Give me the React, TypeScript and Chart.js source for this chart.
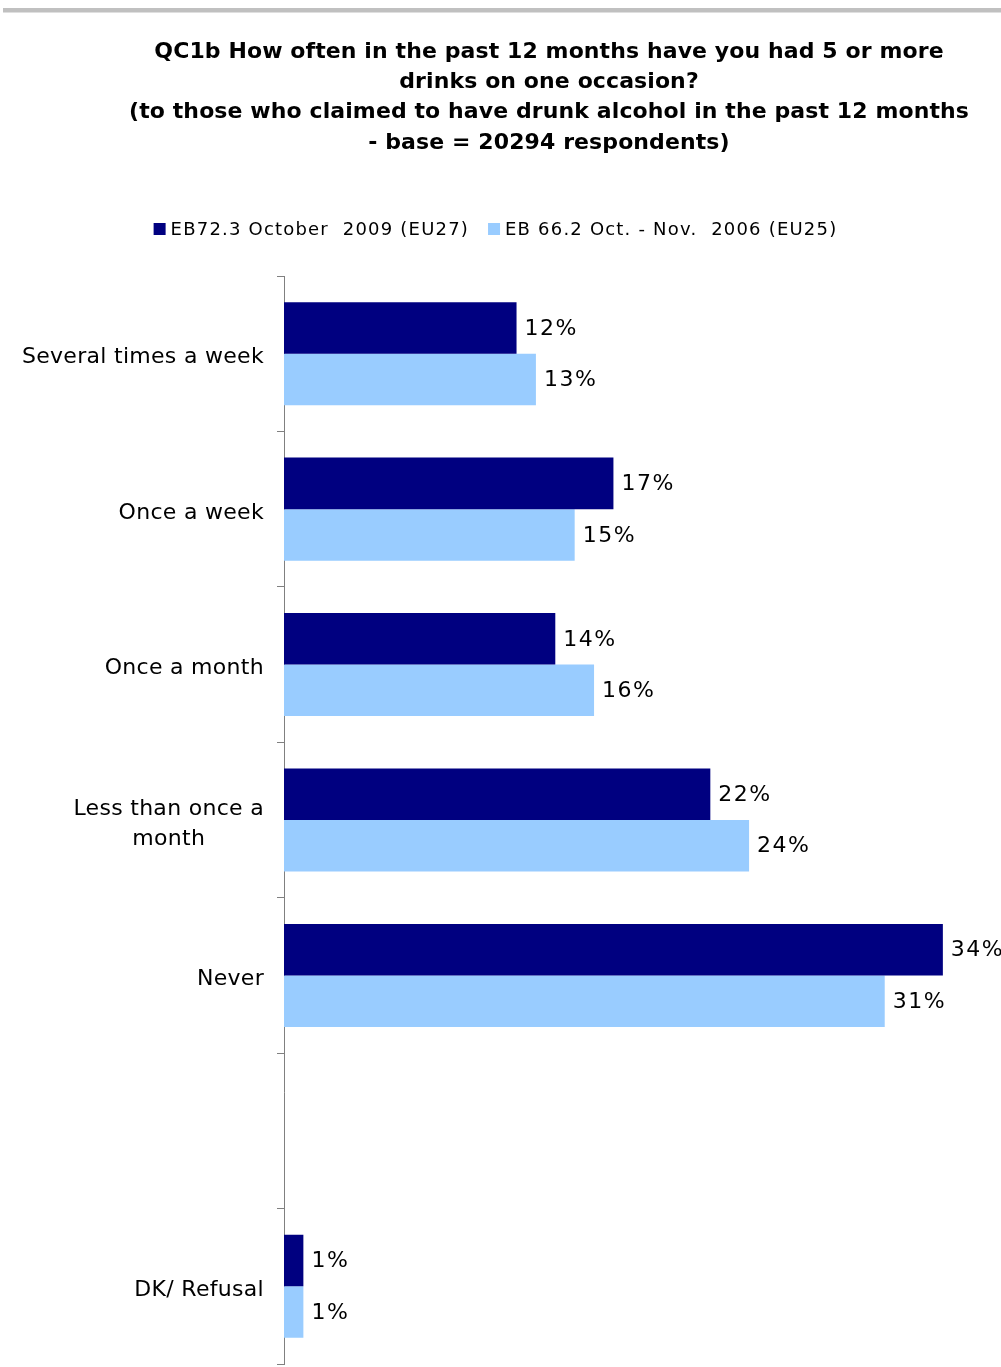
import React, { useEffect, useRef } from "react";
import { Chart, registerables } from "chart.js";

Chart.register(...registerables);

const categories: string[][] = [
  ["Several times a week"],
  ["Once a week"],
  ["Once a month"],
  ["Less than once a", "month"],
  ["Never"],
  [""],
  ["DK/ Refusal"],
];
const series2009: (number | null)[] = [12, 17, 14, 22, 34, null, 1];
const series2006: (number | null)[] = [13, 15, 16, 24, 31, null, 1];
const seriesNames = ["EB72.3 October  2009 (EU27)", "EB 66.2 Oct. - Nov.  2006 (EU25)"];
const seriesColors = ["#000080", "#99CCFF"];
const titleLines = [
  "QC1b How often in the past 12 months have you had 5 or more",
  "drinks on one occasion?",
  "(to those who claimed to have drunk alcohol in the past 12 months",
  "- base = 20294 respondents)",
];

const FONT = "'DejaVu Sans', Verdana, sans-serif";

const decorPlugin = {
  id: "decor",
  afterDraw(chart: any) {
    const ctx = chart.ctx as any;
    ctx.save();
    // top gray rule
    ctx.fillStyle = "#C0C0C0";
    ctx.fillRect(3, 8, 998, 4.5);
    // title
    ctx.fillStyle = "#000";
    ctx.font = `bold 22px ${FONT}`;
    ctx.letterSpacing = "0.1px";
    ctx.textAlign = "center";
    ctx.textBaseline = "middle";
    titleLines.forEach((l, i) => ctx.fillText(l, 549, 52 + i * 30.3));
    // legend
    ctx.font = `18px ${FONT}`;
    ctx.letterSpacing = "1.2px";
    ctx.textAlign = "left";
    const sq = 12;
    const gapSq = 5;
    const gapItem = 19;
    const widths = seriesNames.map((n) => ctx.measureText(n).width);
    const total = widths.reduce((a: number, w: number) => a + sq + gapSq + w, 0) + gapItem;
    let x = 495.5 - total / 2;
    const ly = 229;
    seriesNames.forEach((n, i) => {
      ctx.fillStyle = seriesColors[i];
      ctx.fillRect(x, ly - 6, sq, sq);
      x += sq + gapSq;
      ctx.fillStyle = "#000";
      ctx.fillText(n, x, ly + 1);
      x += widths[i] + gapItem;
    });
    // category labels
    const yScale = chart.scales.y;
    ctx.font = `22px ${FONT}`;
    ctx.letterSpacing = "0.3px";
    ctx.fillStyle = "#000";
    ctx.textAlign = "center";
    categories.forEach((lines, i) => {
      const cy = yScale.getPixelForValue(i) + 4;
      const w = Math.max(...lines.map((l) => ctx.measureText(l).width));
      const cx = 264 - w / 2;
      const lh = 30;
      lines.forEach((l, j) => {
        ctx.fillText(l, cx, cy + (j - (lines.length - 1) / 2) * lh);
      });
    });
    // data labels
    ctx.textAlign = "left";
    ctx.font = `22px ${FONT}`;
    ctx.letterSpacing = "1.5px";
    chart.data.datasets.forEach((ds: any, di: number) => {
      const meta = chart.getDatasetMeta(di);
      meta.data.forEach((bar: any, i: number) => {
        const v = ds.data[i];
        if (v == null) return;
        ctx.fillStyle = "#000";
        ctx.fillText(`${v}%`, bar.x + 8, bar.y + 1);
      });
    });
    ctx.restore();
  },
};

export default function App() {
  const ref = useRef<HTMLCanvasElement>(null);
  useEffect(() => {
    if (!ref.current) return;
    const chart = new Chart(ref.current, {
      type: "bar",
      data: {
        labels: categories.map((c) => c.join(" ")),
        datasets: [
          { label: seriesNames[0], data: series2009, backgroundColor: seriesColors[0] },
          { label: seriesNames[1], data: series2006, backgroundColor: seriesColors[1] },
        ],
      },
      options: {
        indexAxis: "y",
        responsive: false,
        animation: false,
        events: [],
        layout: { padding: { left: 277, top: 276, right: 0, bottom: 3 } },
        datasets: { bar: { categoryPercentage: 0.663, barPercentage: 1 } },
        plugins: { legend: { display: false }, title: { display: false }, tooltip: { enabled: false } },
        scales: {
          x: { display: false, min: 0, max: 37 },
          y: {
            display: true,
            ticks: { display: false },
            grid: {
              offset: true,
              drawOnChartArea: false,
              drawTicks: true,
              tickLength: 7,
              color: "#808080",
              lineWidth: 1,
            },
            border: { display: true, color: "#808080", width: 1 },
          },
        },
      },
      plugins: [decorPlugin],
    });
    return () => chart.destroy();
  }, []);
  return (
    <div style={{ position: "absolute", left: 0, top: 0, width: 1001, height: 1367, background: "#fff" }}>
      <canvas ref={ref} width={1001} height={1367} style={{ width: 1001, height: 1367, display: "block" }} />
    </div>
  );
}
